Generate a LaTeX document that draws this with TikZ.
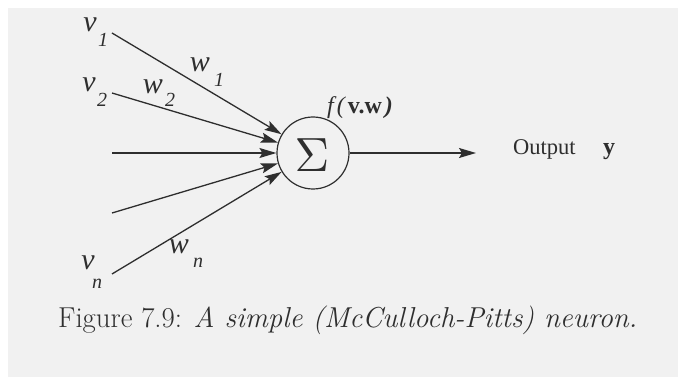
\documentclass[tikz,border=0pt]{standalone}
\usepackage{fontspec}
\usepackage{graphicx}
\newfontfamily\lab{Liberation Serif}
\usetikzlibrary{arrows.meta}
\definecolor{ink}{HTML}{2E2E2E}
\definecolor{paper}{HTML}{F1F1F1}
\begin{document}
\begin{tikzpicture}[x=1pt,y=-1pt,
  conn/.style={draw=ink,line width=1.3pt,-{Stealth[length=17pt,width=10pt,inset=3pt]}},
  lbl/.style={inner sep=0pt,text=ink,font=\lab\fontsize{30}{30}\selectfont\itshape},
  sub/.style={inner sep=0pt,text=ink,font=\lab\fontsize{20}{20}\selectfont\itshape}]
\useasboundingbox (0,0) rectangle (678,377);
\fill[white] (0,0) rectangle (678,377);
\fill[paper] (8,8) rectangle (678,377);
% neuron
\node[circle,draw=ink,line width=1.2pt,minimum size=72pt,inner sep=0pt] (sum) at (313,153) {};
\node[inner sep=0pt,text=ink] (sig) at (312,155) {\scalebox{4.8}{$\Sigma$}};
% inputs
\coordinate (i1) at (112,33);
\coordinate (i2) at (112,93);
\coordinate (i3) at (112,153);
\coordinate (i4) at (112,213);
\coordinate (i5) at (112,274);
\foreach \i in {1,...,5} \draw[conn] (i\i) -- (sum);
% output
\coordinate (out) at (476,153);
\draw[conn] (sum) -- (out);
% labels
\node[lbl] (v1) at (90,25) {v};
\node[sub] (v1s) at (103,40) {1};
\node[lbl] (v2) at (89,85) {v};
\node[sub] (v2s) at (102,100) {2};
\node[lbl] (vn) at (88,263) {v};
\node[sub] (vns) at (97,284) {n};
\node[lbl] (w1) at (200,65) {w};
\node[sub] (w1s) at (219,80) {1};
\node[lbl] (w2) at (153,87) {w};
\node[sub] (w2s) at (170,100) {2};
\node[lbl] (wn) at (179,247) {w};
\node[sub] (wns) at (198,263) {n};
\node[inner sep=0pt,text=ink,anchor=base west] (f) at (327,114) {\lab\fontsize{24}{24}\selectfont\itshape f\hspace{3pt}(\hspace{3pt}\upshape\bfseries v.w\hspace{3pt}\itshape)};
\node[inner sep=0pt,text=ink,anchor=base west] (o) at (513,155) {\lab\fontsize{22.5}{22.5}\selectfont Output};
\node[inner sep=0pt,text=ink,anchor=base west] (y) at (603,155) {\lab\fontsize{24}{24}\selectfont\bfseries y};
% caption
\node[inner sep=0pt,text=ink,anchor=base west] (cap) at (58,327) {\fontsize{28.8}{28.8}\selectfont Figure 7.9: \textit{A simple (McCulloch-Pitts) neuron.}};
\end{tikzpicture}
\end{document}
